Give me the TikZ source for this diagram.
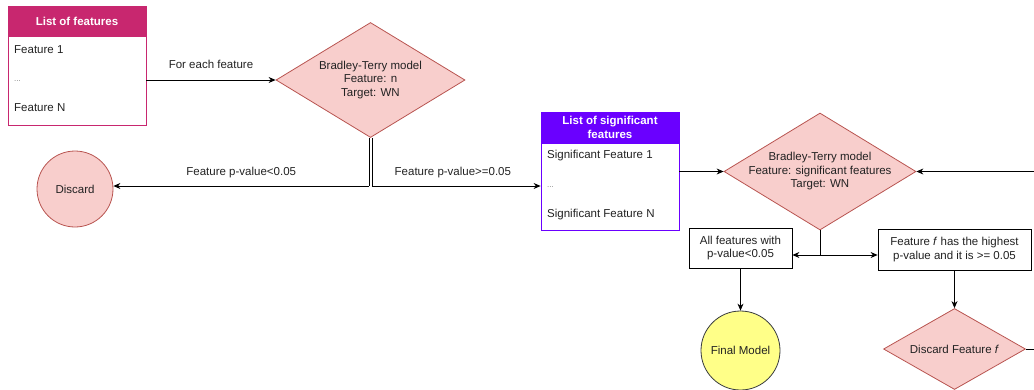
\documentclass[tikz,border=0pt]{standalone}
\usepackage{fontspec}
\setmainfont{Liberation Sans}
\usetikzlibrary{shapes.geometric,arrows.meta,positioning}
\definecolor{magh}{HTML}{C8276F}
\definecolor{purh}{HTML}{6A00FF}
\definecolor{redfill}{HTML}{F8CECC}
\definecolor{redline}{HTML}{B85450}
\definecolor{yelfill}{HTML}{FFFF88}
\definecolor{yelline}{HTML}{36393D}
\definecolor{txt}{HTML}{222222}
\tikzset{
  every node/.style={font=\fontsize{11.5}{13.5}\selectfont, text=txt},
  arr/.style={draw=black, line width=0.8pt, -{Stealth[length=7pt,width=6pt]}},
  ln/.style={draw=black, line width=0.8pt},
  dia/.style={diamond, draw=redline, fill=redfill, line width=0.8pt, inner sep=0pt},
  circ/.style={circle, draw=redline, fill=redfill, line width=0.8pt, inner sep=0pt},
  hdr/.style={rectangle, inner sep=0pt, text=white, font=\bfseries\fontsize{11.5}{13.5}\selectfont, align=center},
  body/.style={rectangle, draw, fill=white, line width=0.8pt, inner sep=0pt},
  item/.style={anchor=west, inner sep=0pt},
  plainbox/.style={rectangle, draw=black, fill=white, line width=0.8pt, inner sep=0pt, align=center},
  ctext/.style={align=center, inner sep=0pt}
}
\begin{document}
\begin{tikzpicture}[x=1pt,y=-1pt]
\useasboundingbox (0,0) rectangle (1034,389);
% List of features
\node[body, draw=magh, minimum width=138pt, minimum height=89pt] (featbody) at (77,80.5) {};
\node[hdr, fill=magh, draw=magh, line width=0.8pt, minimum width=138pt, minimum height=30pt] (feathdr) at (77,21) {List of features};
\node[item] (f1) at (14,50) {Feature 1};
\node[item, text=gray] (fdots) at (14,81) {\fontsize{8}{9}\selectfont ...};
\node[item] (fN) at (14,108) {Feature N};
% diamond 1
\node[dia, minimum width=189pt, minimum height=115pt] (bt1) at (370.5,80) {};
\node[ctext] (bt1t) at (370.5,80) {Bradley-Terry model\\Feature: n\\Target: WN};
\draw[arr] (featbody.east |- bt1) -- (bt1.west) node[midway, above=11pt, inner sep=0pt] (lbl1) {For each feature};
% discard
\node[circ, minimum size=76pt] (discard) at (75,189) {Discard};
% significant list
\node[body, draw=purh, minimum width=138pt, minimum height=87pt] (sigbody) at (610,187) {};
\node[hdr, fill=purh, draw=purh, line width=0.8pt, minimum width=138pt, minimum height=31pt] (sighdr) at (610,127.5) {List of significant\\features};
\node[item] (s1) at (547,156) {Significant Feature 1};
\node[item, text=gray] (sdots) at (547,187) {\fontsize{8}{9}\selectfont ...};
\node[item] (sN) at (547,215) {Significant Feature N};
% split from diamond 1
\coordinate (split1) at (370.5,186);
\draw[ln] ([xshift=-1.4pt]bt1.south) -- ([xshift=-1.4pt]split1);
\draw[ln] ([xshift=1.4pt]bt1.south) -- ([xshift=1.4pt]split1);
\draw[arr] ([xshift=-1.4pt]split1) -- (discard.east |- split1) node[midway, above=8pt, inner sep=0pt] (lbl2) {Feature p-value<0.05};
\draw[arr] ([xshift=1.4pt]split1) -- (sigbody.west |- split1) node[pos=0.48, above=8pt, inner sep=0pt] (lbl3) {Feature p-value>=0.05};
% diamond 2
\node[dia, minimum width=192pt, minimum height=117pt] (bt2) at (820,171.5) {};
\node[ctext] (bt2t) at (820,171.5) {Bradley-Terry model\\Feature: significant features\\Target: WN};
\draw[arr] (sigbody.east |- bt2) -- (bt2.west);
\coordinate (rin) at (1034,171.5);
\draw[arr] (rin) -- (bt2.east);
% boxes
\node[plainbox, minimum width=103pt, minimum height=40pt] (allf) at (740.5,248) {All features with\\p-value<0.05};
\node[plainbox, minimum width=153pt, minimum height=41pt] (high) at (954.5,249.5) {Feature \textit{f} has the highest\\p-value and it is >= 0.05};
\coordinate (split2) at (820,255);
\draw[ln] (bt2.south) -- (split2);
\draw[arr] (split2) -- (allf.east |- split2);
\draw[arr] (split2) -- (high.west |- split2);
% final model
\node[circle, draw=yelline, fill=yelfill, line width=0.8pt, inner sep=0pt, minimum size=79pt] (final) at (740.5,350.5) {Final Model};
\draw[arr] (allf.south) -- (final.north);
% discard feature f
\node[dia, minimum width=142pt, minimum height=81pt] (discf) at (954.5,349) {};
\node[ctext] (discft) at (954.5,349) {Discard Feature \textit{f}};
\draw[arr] (high.south) -- (discf.north);
\coordinate (rout) at (1034,349);
\draw[ln] (discf.east) -- (rout);
\end{tikzpicture}
\end{document}
